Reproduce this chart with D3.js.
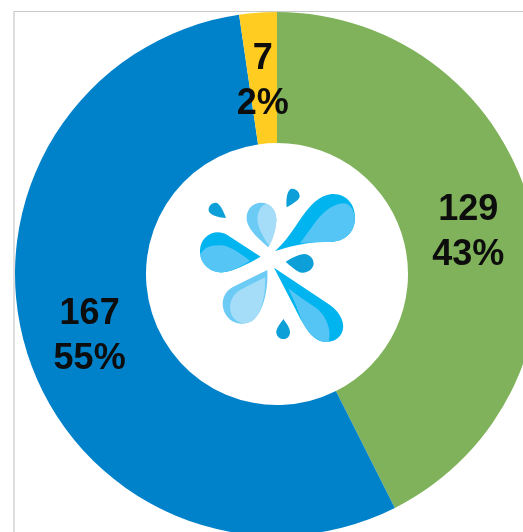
<!DOCTYPE html>
<html>
<head>
<meta charset="utf-8">
<script src="https://cdnjs.cloudflare.com/ajax/libs/d3/7.8.5/d3.min.js"></script>
<style>
html,body{margin:0;padding:0;background:#fff;overflow:hidden}
svg{display:block}
text{font-family:"Liberation Sans",Arial,sans-serif;font-weight:700;fill:#0a0a0a}
</style>
</head>
<body>
<div id="chart"></div>
<script>
const categories = ["Green", "Blue", "Yellow"];
const counts = [129, 167, 7];
const percents = ["43%", "55%", "2%"];
const colors = ["#7FB25A", "#0082CA", "#FFCC22"];

const width = 523, height = 532;
const cx = 277, cy = 274, outerR = 262, innerR = 131;

const svg = d3.select("#chart").append("svg")
  .attr("width", width).attr("height", height);

const blur = svg.append("defs").append("filter").attr("id", "soft");
blur.append("feGaussianBlur").attr("stdDeviation", 0.5);

const root = svg.append("g").attr("filter", "url(#soft)");

// frame of the picture: top and left rules only
root.append("path")
  .attr("d", d3.line()([[14, height], [14, 11.5], [width, 11.5]]))
  .attr("fill", "none").attr("stroke", "#c9c9c9").attr("stroke-width", 1.2);

const pie = d3.pie().sort(null).value(d => d)(counts);
const arc = d3.arc().innerRadius(innerR).outerRadius(outerR);
const g = root.append("g").attr("transform", `translate(${cx},${cy})`);

g.selectAll("path.slice").data(pie).join("path")
  .attr("class", "slice")
  .attr("d", arc)
  .attr("fill", (d, i) => colors[i]);

const labels = g.selectAll("g.label").data(pie).join("g")
  .attr("class", "label")
  .attr("transform", d => `translate(${arc.centroid(d)})`);
labels.append("text").attr("text-anchor", "middle").attr("font-size", 36)
  .attr("y", -9).text((d, i) => counts[i]);
labels.append("text").attr("text-anchor", "middle").attr("font-size", 36)
  .attr("y", 36).text((d, i) => percents[i]);

// splash logo in the hole
const logoShapes = [
  ["#00B5EF", "M405,333C470,280 500,170 575,162C625,160 648,200 645,240C640,290 600,308 560,306C500,305 450,320 405,333Z"],
  ["#55C5F5", "M480,310C520,260 550,195 610,190C632,190 645,215 645,240C640,290 600,308 560,306C530,305 500,307 480,310Z"],
  ["#00B5EF", "M362,350L262,285C225,262 178,290 180,335C182,375 215,400 250,397C285,392 330,368 362,350Z"],
  ["#55C5F5", "M330,362C300,340 265,312 235,316C205,316 183,330 181,348C186,378 218,400 250,397C280,393 310,375 330,362Z"],
  ["#6CCBF5", "M385,322C395,300 410,265 409,235C407,205 385,187 362,188C335,190 318,212 320,238C323,270 360,300 385,322Z"],
  ["#A5DDF8", "M388,318C400,295 410,265 409,235C407,210 392,192 378,192C355,200 348,230 355,255C362,280 375,300 388,318Z"],
  ["#6CCBF5", "M382,390L280,440C250,455 240,490 255,520C270,550 310,562 340,540C370,515 385,450 382,390Z"],
  ["#A5DDF8", "M375,412L300,450C270,470 265,500 275,525C285,545 310,560 340,540C365,518 378,460 375,412Z"],
  ["#00B5EF", "M402,383L570,495C605,520 618,555 605,580C590,610 545,615 520,590C495,565 480,535 465,505Z"],
  ["#55C5F5", "M445,445L470,500C485,545 500,575 520,590C535,603 555,608 566,605C575,570 560,530 530,505C500,485 470,465 445,445Z"],
  ["#0A9FD8", "M258,234C240,232 215,228 207,215C202,200 215,187 228,188C240,190 250,212 258,234Z"],
  ["#0A9FD8", "M440,202C438,180 440,155 452,147C465,142 480,155 479,170C476,182 455,192 440,202Z"],
  ["#0A9FD8", "M437,365C455,355 475,343 492,342C510,342 522,358 521,373C518,390 500,400 485,398C470,395 452,378 437,365Z"],
  ["#0A9FD8", "M430,537C422,550 408,565 409,578C411,590 420,597 431,597C442,597 451,587 450,575C449,562 438,548 430,537Z"]
];
root.append("g").attr("transform", "translate(140,140) scale(0.3333)")
  .selectAll("path").data(logoShapes).join("path")
  .attr("d", d => d[1]).attr("fill", d => d[0]);
</script>
</body>
</html>
